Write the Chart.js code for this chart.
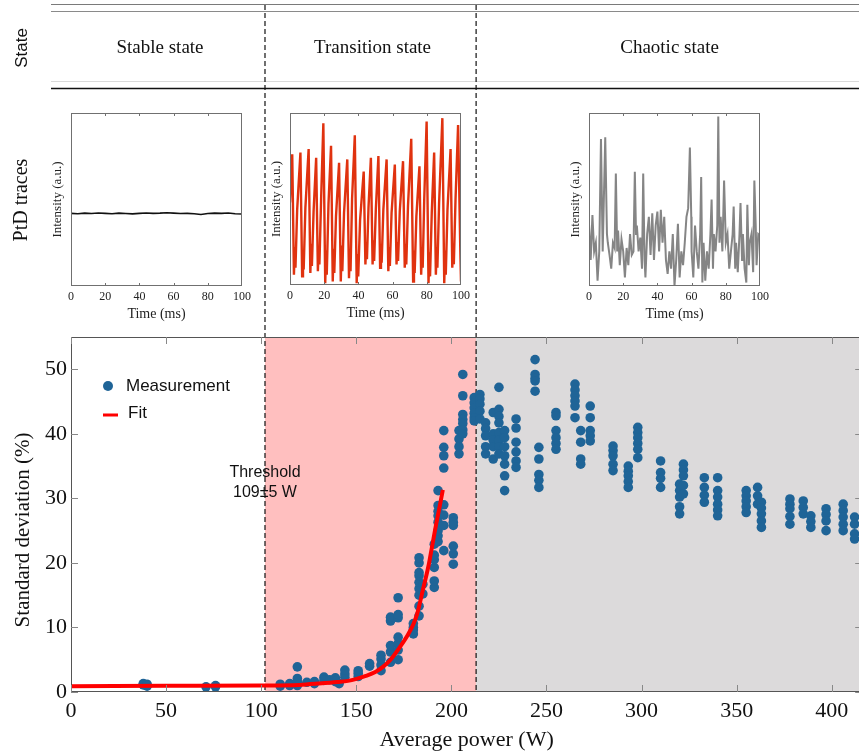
<!DOCTYPE html>
<html>
<head>
<meta charset="utf-8">
<script src="https://cdn.jsdelivr.net/npm/chart.js@4.4.0/dist/chart.umd.min.js"></script>
<style>
  body { margin: 0; background: #fff; }
  #wrap { position: relative; width: 859px; height: 753px; overflow: hidden; }
  #wrap canvas { position: absolute; }
</style>
</head>
<body>
<div id="wrap">
  <canvas id="mainChart" width="867" height="753" style="left:0;top:0"></canvas>
  <canvas id="stableChart" width="205" height="215" style="left:50px;top:108px"></canvas>
  <canvas id="transChart" width="205" height="214" style="left:269px;top:108px"></canvas>
  <canvas id="chaosChart" width="205" height="215" style="left:568px;top:108px"></canvas>
</div>
<script>
// state boundaries (W) and labels
var stateBounds = [102, 213];
var stateNames = ['Stable state', 'Transition state', 'Chaotic state'];

// measurements: power level (W) and the std values measured at it (%)
var powerLevels = [38, 40, 71, 76, 110, 115, 119, 124, 128, 133, 136, 139, 141, 144, 151, 157, 163, 168, 172, 180,
  183, 185, 191, 193, 196, 201, 204, 206, 212, 215, 218, 222, 225, 228, 234, 244, 246, 255, 265, 268, 273,
  285, 293, 298, 310, 320, 322, 333, 340, 355, 361, 363, 378, 385, 389, 397, 406, 412];
var stdAtLevel = [
  [1.3, 1.1], [1.2, 0.9, 1.0], [0.8], [1.0, 0.8], [0.9, 1.2], [1.3, 1.0], [3.9, 2.1, 1.6, 1.0], [1.5],
  [1.3, 1.6], [2.3, 1.8], [1.9], [2.2, 1.6], [1.3], [2.3, 2.8, 3.4], [2.4, 2.9, 3.3], [4.0, 4.4],
  [3.3, 4.2, 5.1, 5.7], [4.6, 6.2, 7.2, 11.0, 11.6], [5.0, 6.5, 7.5, 8.5, 11.5, 12.0, 14.6], [9.0, 9.6, 10.0, 10.6],
  [11.8, 13.3, 15.0, 16.0, 17.0, 18.0, 18.5, 20.0, 20.8], [15.2, 16.7], [16.2, 17.2, 19.3, 20.5, 21.2, 22.9],
  [23.3, 24.2, 25.0, 26.3, 27.3, 28.0, 28.9, 31.2], [40.5, 37.9, 36.6, 34.7, 29.0, 27.4, 25.8, 21.9],
  [27.0, 26.3, 25.8, 22.6, 21.4, 19.8], [40.5, 39.2, 38.0, 36.9], [49.2, 45.9, 43.0, 42.2, 41.6, 40.6, 40.0],
  [45.6, 44.8, 44.0, 43.2, 42.5, 42.0], [46.1, 45.4, 44.6, 43.5, 42.3], [41.7, 40.8, 39.7, 38.0, 36.9],
  [43.3, 40.0, 39.0, 38.0, 36.1], [47.2, 43.8, 42.7, 41.7, 40.2, 39.0, 38.0, 36.9],
  [40.5, 39.4, 38.0, 36.6, 35.3, 33.5, 31.2], [42.3, 40.9, 38.7, 37.2, 35.8, 34.8], [51.5, 49.2, 48.6, 48.2, 46.6],
  [37.9, 36.1, 33.7, 32.8, 31.7], [43.3, 42.8, 40.5, 39.4, 38.5, 37.6], [47.7, 46.8, 45.9, 45.1, 44.3, 42.5],
  [40.5, 38.7, 36.1, 35.3], [44.3, 42.5, 40.5, 39.7, 38.9], [38.1, 37.4, 36.6, 35.3, 34.3],
  [35.0, 34.2, 33.5, 32.6, 31.7], [41.0, 40.2, 39.4, 38.5, 37.6, 36.3], [35.8, 34.0, 33.1, 31.7],
  [32.2, 31.2, 30.2, 28.7, 27.6], [35.3, 34.4, 33.5, 32.0, 30.7], [33.2, 31.7, 30.5, 29.4],
  [33.2, 31.2, 30.2, 29.1, 28.2, 27.3], [31.2, 30.4, 29.6, 28.7, 27.8], [31.7, 30.4, 29.1],
  [29.4, 28.5, 27.6, 26.5, 25.5], [29.9, 29.1, 28.4, 27.2, 26.0], [29.6, 28.6, 27.6], [27.3, 26.4, 25.5],
  [28.4, 27.5, 26.5, 25.0], [29.1, 28.1, 27.1, 26.0, 25.0], [27.1, 26.0, 24.5, 23.7]
];

// fit curve
var fitPower = [0, 50, 100, 120, 130, 140, 147, 155, 160, 164, 168, 173, 177, 180, 182, 185, 188, 190, 192, 194, 195.5];
var fitStd = [0.9, 0.95, 1.0, 1.1, 1.3, 1.55, 1.8, 2.5, 3.1, 3.9, 5.0, 7.0, 8.8, 10.5, 12.1, 15.8, 19.6, 22.8, 26.0, 29.0, 31.3];

var xTickValues = [0, 50, 100, 150, 200, 250, 300, 350, 400];
var yTickValues = [0, 10, 20, 30, 40, 50];

// PtD traces
var stableT = [0, 4, 8, 12, 16, 20, 24, 28, 32, 36, 40, 44, 48, 52, 56, 60, 64, 68, 72, 76, 80, 84, 88, 92, 96, 100];
var stableV = [0.420, 0.418, 0.421, 0.419, 0.422, 0.420, 0.418, 0.421, 0.419, 0.417, 0.420, 0.422, 0.420,
  0.421, 0.423, 0.421, 0.419, 0.420, 0.418, 0.413, 0.419, 0.421, 0.420, 0.422, 0.418, 0.416];

var transT = [0, 1.3, 2.3, 2.8, 3.2, 4.2,
  6.1, 7.1, 7.6, 8.0, 9.0, 10.9, 11.9, 12.4, 12.8, 13.8, 15.3, 16.3, 16.8, 17.2, 18.2,
  19.5, 20.6, 21.1, 21.5, 22.5, 24.0, 25.0, 25.5, 25.9, 26.9, 28.7, 29.7, 30.2, 30.6, 31.6,
  33.5, 34.5, 35.0, 35.4, 36.3, 37.9, 39.0, 39.5, 39.9, 41.0, 43.1, 44.1, 44.6, 45.0, 45.9,
  47.3, 48.3, 48.8, 49.2, 50.2, 51.7, 52.7, 53.2, 53.6, 54.6, 56.5, 57.5, 58.0, 58.4, 59.4,
  61.3, 62.3, 62.8, 63.2, 64.2, 66.1, 67.1, 67.6, 68.0, 69.0, 70.9, 72.0, 72.5, 72.9, 73.9,
  75.7, 76.7, 77.2, 77.6, 78.5, 79.9, 81.0, 81.5, 81.9, 82.9, 84.3, 85.3, 85.8, 86.2, 87.2,
  89.1, 90.2, 90.7, 91.1, 92.1, 93.9, 94.9, 95.4, 95.8, 96.8, 98.3, 99.6, 100];
var transV = [0.48, 0.76, 0.06, 0.22, 0.10, 0.44,
  0.77, 0.05, 0.20, 0.09, 0.45, 0.79, 0.07, 0.24, 0.11, 0.43, 0.74, 0.08, 0.22, 0.12, 0.50,
  0.94, 0.01, 0.20, 0.06, 0.47, 0.81, 0.02, 0.21, 0.07, 0.40, 0.71, 0.02, 0.23, 0.08, 0.42,
  0.73, 0.04, 0.20, 0.08, 0.50, 0.87, 0.01, 0.18, 0.05, 0.38, 0.66, 0.12, 0.25, 0.15, 0.45,
  0.74, 0.12, 0.26, 0.14, 0.44, 0.75, 0.10, 0.24, 0.13, 0.44, 0.73, 0.08, 0.22, 0.11, 0.42,
  0.70, 0.12, 0.25, 0.14, 0.43, 0.72, 0.10, 0.24, 0.12, 0.46, 0.85, 0.02, 0.20, 0.07, 0.40,
  0.69, 0.06, 0.22, 0.10, 0.50, 0.95, 0.01, 0.19, 0.05, 0.42, 0.77, 0.06, 0.22, 0.10, 0.48,
  0.97, 0.01, 0.20, 0.06, 0.44, 0.79, 0.10, 0.24, 0.12, 0.50, 0.93, 0.20, 0.02];

var chaosT = [0, 1, 2, 3, 4, 5, 6, 7, 8, 9.5, 10.5, 11, 12, 13, 14, 15, 15.7, 16.5, 17, 18, 19, 20, 21, 22, 23, 24,
  25, 26, 26.8, 27.5, 28, 29, 30, 31, 31.7, 32.5, 33, 34, 35, 36, 37, 38, 39, 40, 41, 42, 43, 44, 45, 46, 47,
  48, 49, 50, 51, 52, 53, 54, 55, 56, 57, 58, 59, 59.8, 60, 61, 62, 63, 64, 65, 65.6, 66.3, 67, 68, 69, 70,
  71, 71.7, 72.5, 73, 74, 75, 75.6, 76.3, 77, 78, 79, 80, 81, 82, 83, 84, 84.6, 85.5, 86, 87, 88, 88.6, 89.5,
  90, 91, 92, 92.6, 93.5, 94, 95, 96, 96.7, 97.5, 98, 99, 100];
var chaosV = [0.36, 0.15, 0.41, 0.20, 0.25, 0.03, 0.20, 0.85, 0.20, 0.86, 0.30, 0.25, 0.18, 0.10, 0.25, 0.22,
  0.65, 0.20, 0.32, 0.12, 0.27, 0.20, 0.05, 0.22, 0.12, 0.30, 0.18, 0.20, 0.66, 0.30, 0.35, 0.20, 0.28, 0.10,
  0.65, 0.15, 0.05, 0.30, 0.40, 0.18, 0.42, 0.15, 0.35, 0.43, 0.20, 0.44, 0.25, 0.40, 0.15, 0.07, 0.20, 0.10,
  0.30, 0.00, 0.15, 0.36, 0.05, 0.20, 0.12, 0.25, 0.40, 0.45, 0.80, 0.40, 0.20, 0.05, 0.35, 0.20, 0.10, 0.30,
  0.63, 0.02, 0.25, 0.03, 0.20, 0.10, 0.30, 0.50, 0.10, 0.30, 0.20, 0.35, 0.98, 0.25, 0.40, 0.20, 0.61, 0.25,
  0.30, 0.10, 0.20, 0.30, 0.46, 0.10, 0.25, 0.08, 0.30, 0.48, 0.15, 0.30, 0.10, 0.02, 0.47, 0.12, 0.25, 0.30,
  0.08, 0.61, 0.35, 0.12, 0.30, 0.29];

var SERIF = "'Liberation Serif', 'Times New Roman', serif";
var SANS = "'Liberation Sans', Arial, sans-serif";

var measPoints = [];
powerLevels.forEach(function (p, i) {
  stdAtLevel[i].forEach(function (s) { measPoints.push({ x: p, y: s }); });
});
var fitPoints = fitPower.map(function (p, i) { return { x: p, y: fitStd[i] }; });

// shaded regions + dashed state borders + the table rows above the plot
var backdrop = {
  id: 'backdrop',
  beforeDatasetsDraw: function (chart) {
    var ctx = chart.ctx, a = chart.chartArea, x = chart.scales.x;
    var x1 = x.getPixelForValue(stateBounds[0]), x2 = x.getPixelForValue(stateBounds[1]);
    ctx.save();
    ctx.fillStyle = '#ffbfbf';
    ctx.fillRect(x1, a.top, x2 - x1, a.bottom - a.top);
    ctx.fillStyle = '#dcdadb';
    ctx.fillRect(x2, a.top, a.right - x2, a.bottom - a.top);

    // table rules
    var left = 51, right = 859;
    function rule(y, col, w) {
      ctx.strokeStyle = col; ctx.lineWidth = w;
      ctx.beginPath(); ctx.moveTo(left, y); ctx.lineTo(chart.width, y); ctx.stroke();
    }
    rule(4.5, '#7a7a7a', 1);
    rule(11.5, '#8a8a8a', 1);
    rule(81.5, '#dadada', 1);
    rule(88.5, '#111', 1.3);

    // dashed borders
    ctx.strokeStyle = '#111'; ctx.lineWidth = 1.2; ctx.setLineDash([5, 3]);
    [x1, x2].forEach(function (px) {
      ctx.beginPath(); ctx.moveTo(px, 5); ctx.lineTo(px, a.bottom); ctx.stroke();
    });
    ctx.setLineDash([]);

    // state labels
    var edges = [left, x1, x2, right];
    ctx.fillStyle = '#111'; ctx.textAlign = 'center'; ctx.textBaseline = 'middle';
    ctx.font = '19px ' + SERIF;
    stateNames.forEach(function (n, i) { ctx.fillText(n, (edges[i] + edges[i + 1]) / 2 + 2, 48); });

    // row headers
    ctx.save(); ctx.translate(22, 48); ctx.rotate(-Math.PI / 2);
    ctx.font = '17px ' + SANS; ctx.fillText('State', 0, 0); ctx.restore();
    ctx.save(); ctx.translate(22, 200); ctx.rotate(-Math.PI / 2);
    ctx.font = '20px ' + SERIF; ctx.fillText('PtD traces', 0, 0); ctx.restore();

    // y axis title
    ctx.save(); ctx.translate(23, 530); ctx.rotate(-Math.PI / 2);
    ctx.font = '21px ' + SERIF; ctx.fillText('Standard deviation (%)', 0, 0); ctx.restore();
    ctx.restore();
  },
  afterDraw: function (chart) {
    var ctx = chart.ctx, a = chart.chartArea, x = chart.scales.x, y = chart.scales.y;
    ctx.save();
    // frame and inward ticks
    ctx.strokeStyle = '#555'; ctx.lineWidth = 1;
    ctx.strokeRect(a.left + 0.5, a.top + 0.5, a.right - a.left - 1, a.bottom - a.top - 1);
    ctx.strokeStyle = '#888';
    ctx.beginPath();
    xTickValues.forEach(function (v) {
      var px = Math.round(x.getPixelForValue(v)) + 0.5;
      ctx.moveTo(px, a.bottom); ctx.lineTo(px, a.bottom - 7);
      ctx.moveTo(px, a.top); ctx.lineTo(px, a.top + 7);
    });
    yTickValues.forEach(function (v) {
      var py = Math.round(y.getPixelForValue(v)) + 0.5;
      ctx.moveTo(a.left, py); ctx.lineTo(a.left + 7, py);
      ctx.moveTo(a.right, py); ctx.lineTo(a.right - 7, py);
    });
    ctx.stroke();

    // legend
    ctx.fillStyle = '#1f6497';
    ctx.beginPath(); ctx.arc(108, 386, 5, 0, Math.PI * 2); ctx.fill();
    ctx.strokeStyle = '#ff0000'; ctx.lineWidth = 3;
    ctx.beginPath(); ctx.moveTo(103, 415); ctx.lineTo(118, 415); ctx.stroke();
    ctx.fillStyle = '#111'; ctx.font = '17px ' + SANS; ctx.textBaseline = 'middle'; ctx.textAlign = 'left';
    ctx.fillText('Measurement', 126, 386);
    ctx.fillText('Fit', 128, 413);

    // threshold note
    var tx = x.getPixelForValue(stateBounds[0]);
    ctx.textAlign = 'center'; ctx.font = '16px ' + SANS;
    ctx.fillText('Threshold', tx, 473);
    ctx.fillText('109\u00b15 W', tx, 493);
    ctx.restore();
  }
};

new Chart(document.getElementById('mainChart'), {
  type: 'scatter',
  data: {
    datasets: [{
      type: 'line',
      label: 'Fit',
      data: fitPoints,
      borderColor: '#ff0000',
      borderWidth: 4,
      pointRadius: 0,
      cubicInterpolationMode: 'monotone',
      order: 0
    }, {
      label: 'Measurement',
      data: measPoints,
      backgroundColor: '#1f6497',
      borderWidth: 0,
      pointRadius: 4.8,
      order: 1
    }]
  },
  options: {
    responsive: false,
    animation: false,
    layout: { padding: { top: 337, right: 1, left: 0, bottom: 0 } },
    plugins: { legend: { display: false }, tooltip: { enabled: false } },
    scales: {
      x: {
        type: 'linear', min: 0, max: 416,
        afterBuildTicks: function (s) { s.ticks = xTickValues.map(function (v) { return { value: v }; }); },
        ticks: { font: { family: SERIF, size: 22 }, color: '#111', padding: 6, maxRotation: 0 },
        grid: { display: false, drawTicks: false },
        border: { display: false },
        title: { display: true, text: 'Average power (W)', font: { family: SERIF, size: 22 }, color: '#111', padding: 0 },
        afterFit: function (s) { s.height = 61; }
      },
      y: {
        min: 0, max: 55,
        afterBuildTicks: function (s) { s.ticks = yTickValues.map(function (v) { return { value: v }; }); },
        ticks: { font: { family: SERIF, size: 22 }, color: '#111', padding: 4 },
        grid: { display: false, drawTicks: false },
        border: { display: false },
        afterFit: function (s) { s.width = 71; }
      }
    }
  },
  plugins: [backdrop]
});

// small frame with inward ticks for the trace insets
var insetFrame = {
  id: 'insetFrame',
  afterDraw: function (chart) {
    var ctx = chart.ctx, a = chart.chartArea, x = chart.scales.x;
    ctx.save();
    ctx.strokeStyle = '#707070'; ctx.lineWidth = 1;
    ctx.strokeRect(a.left + 0.5, a.top + 0.5, a.right - a.left - 1, a.bottom - a.top - 1);
    ctx.beginPath();
    [20, 40, 60, 80].forEach(function (v) {
      var px = Math.round(x.getPixelForValue(v)) + 0.5;
      ctx.moveTo(px, a.top); ctx.lineTo(px, a.top + 3);
      ctx.moveTo(px, a.bottom); ctx.lineTo(px, a.bottom - 3);
    });
    ctx.stroke();
    ctx.restore();
  }
};

function traceChart(id, times, values, color, width) {
  new Chart(document.getElementById(id), {
    type: 'line',
    data: {
      datasets: [{
        data: times.map(function (t, i) { return { x: t, y: values[i] }; }),
        borderColor: color,
        borderWidth: width,
        pointRadius: 0,
        tension: 0
      }]
    },
    options: {
      responsive: false,
      animation: false,
      layout: { padding: { top: 5, right: 10, left: 0, bottom: 0 } },
      plugins: { legend: { display: false }, tooltip: { enabled: false } },
      scales: {
        x: {
          type: 'linear', min: 0, max: 100,
          ticks: { stepSize: 20, font: { family: SERIF, size: 12 }, color: '#222', padding: 4, maxRotation: 0 },
          grid: { display: false, drawTicks: false },
          border: { display: false },
          title: { display: true, text: 'Time (ms)', font: { family: SERIF, size: 14 }, color: '#222', padding: 0 },
          afterFit: function (s) { s.height = 37; }
        },
        y: {
          min: 0, max: 1,
          ticks: { display: false },
          grid: { display: false, drawTicks: false },
          border: { display: false },
          title: { display: true, text: 'Intensity (a.u.)', font: { family: SERIF, size: 13 }, color: '#222', padding: 0 },
          afterFit: function (s) { s.width = 21; }
        }
      }
    },
    plugins: [insetFrame]
  });
}

traceChart('stableChart', stableT, stableV, '#111', 1.6);
traceChart('transChart', transT, transV, '#e0320f', 2.4);
traceChart('chaosChart', chaosT, chaosV, '#858585', 2);
</script>
</body>
</html>
